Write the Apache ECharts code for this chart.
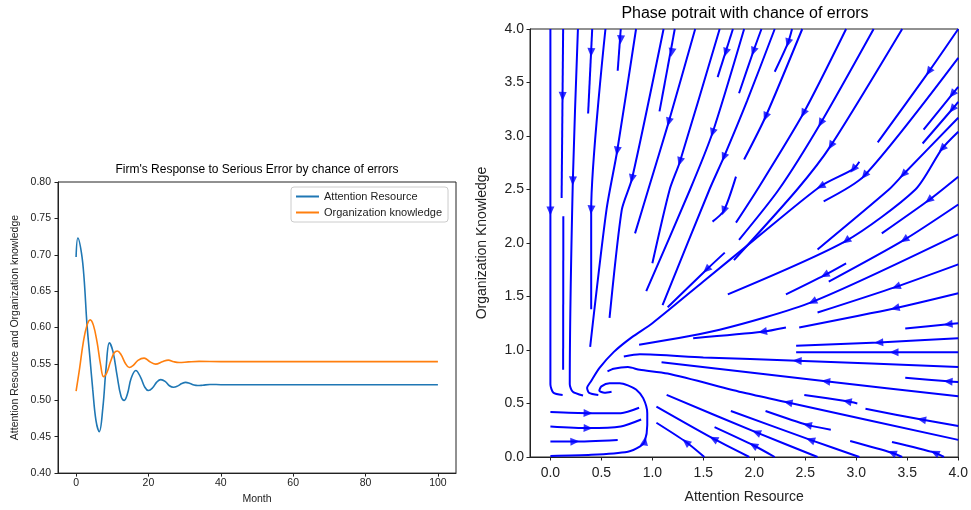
<!DOCTYPE html>
<html>
<head>
<meta charset="utf-8">
<script src="https://cdn.jsdelivr.net/npm/echarts@6/dist/echarts.min.js"></script>
<style>
html, body { margin: 0; padding: 0; background: #fff; }
#main { width: 971px; height: 510px; }
</style>
</head>
<body>
<div id="main"></div>
<script>
// left panel: month, value pairs
var attention = [[0,0.697],[0.5,0.723],[1.5,0.702],[2.2,0.668],[3,0.605],[3.8,0.56],[4.6,0.515],[5.5,0.472],[6.4,0.457],
  [7.4,0.49],[8.3,0.545],[9.2,0.579],[10.2,0.567],[11.3,0.535],[12.4,0.506],[13.3,0.500],[14.2,0.509],[15.2,0.53],
  [16.5,0.541],[17.8,0.532],[19,0.518],[20,0.5135],[21.1,0.517],[22.3,0.525],[23.4,0.5284],[24.6,0.526],[25.8,0.520],
  [26.9,0.518],[28,0.5195],[29.2,0.523],[30.3,0.5247],[31.5,0.523],[32.6,0.521],[33.6,0.5203],[35,0.5208],[37,0.5218],
  [40,0.5215],[45,0.5213],[50,0.5215],[100,0.5215]];
var knowledge = [[0,0.5125],[1,0.545],[2,0.58],[3,0.603],[3.9,0.6106],[4.8,0.603],[5.8,0.58],[6.8,0.548],[7.6,0.5325],
  [8.5,0.538],[9.5,0.553],[10.5,0.565],[11.4,0.5677],[12.4,0.563],[13.6,0.551],[14.7,0.5451],[15.8,0.548],[17.1,0.555],
  [18.8,0.558],[20.4,0.553],[22,0.5497],[23.8,0.553],[25.5,0.5553],[27,0.553],[28.5,0.5519],[31,0.5528],[34,0.5535],
  [40,0.5532],[100,0.5532]];
var monthTicks = [0, 20, 40, 60, 80, 100];
var levelTicks = [0.40, 0.45, 0.50, 0.55, 0.60, 0.65, 0.70, 0.75, 0.80];

// right panel: streamlines (x, y), in flow order
var phaseTicks = [0, 0.5, 1, 1.5, 2, 2.5, 3, 3.5, 4];
var fanLines = [
  [[0,4.0],[0,2.3],[0,0.68],[0.03,0.6],[0.12,0.58]],
  [[0.125,4.0],[0.11,2.42]],
  [[0.127,2.25],[0.125,0.815]],
  [[0.27,4.0],[0.22,2.58],[0.19,0.68],[0.22,0.61],[0.32,0.575]],
  [[0.41,4.0],[0.37,3.21]],
  [[0.54,4.0],[0.40,2.31],[0.40,1.38]],
  [[0.69,4.0],[0.66,3.61]],
  [[0.84,4.0],[0.655,2.86],[0.55,2.31],[0.39,1.03]],
  [[1.11,4.0],[0.80,2.60],[0.70,2.31],[0.58,1.30]],
  [[1.22,4.0],[1.07,3.23]],
  [[1.42,4.0],[1.16,3.13],[0.96,2.5],[0.83,2.09]],
  [[1.66,4.0],[1.27,2.76],[1.17,2.5],[1.0,1.81]],
  [[1.79,4.0],[1.64,3.55]],
  [[1.90,4.0],[1.59,3.03],[1.37,2.5],[0.94,1.55]],
  [[2.07,4.0],[1.99,3.79],[1.85,3.40]],
  [[2.20,4.0],[1.93,3.33],[1.70,2.80],[1.56,2.5],[1.10,1.42]],
  [[2.37,4.0],[2.33,3.87],[2.20,3.60]],
  [[2.47,4.0],[2.11,3.18],[1.90,2.78]],
  [[1.82,2.62],[1.70,2.30],[1.59,2.20]],
  [[2.90,4.0],[2.48,3.21],[2.03,2.50],[1.82,2.19]],
  [[3.17,4.0],[2.65,3.12],[2.24,2.50],[1.85,2.03]],
  [[3.45,4.0],[2.75,2.91],[2.42,2.50],[1.80,1.84]],
  [[1.71,1.91],[1.53,1.75],[1.15,1.40]]
];
var rightLines = [
  [[4.0,4.0],[3.71,3.60],[3.21,2.94]],
  [[4.0,3.73],[3.08,2.63],[2.68,2.39]],
  [[3.03,2.76],[2.97,2.69],[2.65,2.53],[2.0,2.03],[1.5,1.64],[1.0,1.25],[0.80,1.12],[0.62,0.98],[0.48,0.83],[0.40,0.71],[0.36,0.645],[0.38,0.60],[0.47,0.58]],
  [[4.0,3.46],[3.94,3.39],[3.66,3.06]],
  [[4.0,3.32],[3.94,3.25],[3.65,2.93]],
  [[4.0,3.17],[3.46,2.64],[3.32,2.50],[2.62,1.94]],
  [[4.0,3.04],[3.84,2.88],[3.58,2.50],[2.90,2.02],[1.74,1.52]],
  [[4.0,2.62],[3.71,2.40],[3.25,2.09]],
  [[4.0,2.36],[3.47,2.03],[2.73,1.64]],
  [[4.0,2.08],[2.57,1.45],[1.66,1.19],[0.87,1.05]],
  [[2.90,1.81],[2.69,1.70],[2.31,1.52]],
  [[2.31,1.21],[2.08,1.17],[1.40,1.11]],
  [[4.0,1.80],[3.39,1.59],[2.62,1.35]],
  [[4.0,1.53],[3.38,1.39],[2.44,1.21]],
  [[4.0,1.25],[3.90,1.24],[3.48,1.20]],
  [[4.0,1.11],[3.22,1.07],[2.41,1.04]],
  [[4.0,0.98],[3.37,0.98],[2.41,0.98]],
  [[4.0,0.84],[2.42,0.90],[1.5,0.93],[0.877,0.96],[0.72,0.94]],
  [[4.0,0.70],[3.90,0.707],[3.48,0.74]],
  [[4.0,0.567],[2.70,0.707],[1.09,0.886]],
  [[4.0,0.16],[2.33,0.51],[1.9,0.60],[1.15,0.78],[0.877,0.815],[0.76,0.84],[0.62,0.825],[0.56,0.80]],
  [[4.0,0.29],[3.64,0.35],[3.09,0.45]],
  [[3.01,0.50],[2.91,0.52],[2.49,0.58]]
];
var bottomLines = [
  [[2.62,0.0],[2.02,0.23],[1.14,0.58]],
  [[2.75,0.255],[2.52,0.30],[2.11,0.43]],
  [[3.03,0.0],[2.55,0.16],[1.77,0.43]],
  [[1.95,0.0],[1.58,0.18],[1.04,0.47]],
  [[2.20,0.0],[1.99,0.11],[1.61,0.28]],
  [[1.51,0.0],[1.33,0.14],[1.04,0.32]],
  [[3.45,0.0],[3.35,0.04],[2.94,0.15]],
  [[3.86,0.0],[3.77,0.04],[3.35,0.14]]
];
var lowerLeftLines = [
  [[0,0.42],[0.37,0.41],[0.69,0.41],[0.87,0.46]],
  [[0,0.285],[0.37,0.27],[0.69,0.285],[0.89,0.35]],
  [[0,0.145],[0.22,0.145],[0.66,0.16]],
  [[0,0.01],[0.4,0.02],[0.76,0.05],[0.88,0.10],[0.925,0.145],[0.95,0.30],[0.95,0.41],[0.91,0.55],[0.84,0.63],[0.76,0.67],[0.68,0.69],[0.58,0.69],[0.50,0.66],[0.48,0.62],[0.53,0.60],[0.60,0.61]]
];
var arrowPoints = [
  [0,2.30],[0.12,3.37],[0.22,2.58],[0.40,3.78],[0.40,2.31],[0.69,3.90],[0.655,2.86],[0.80,2.60],[1.19,3.78],
  [1.16,3.13],[1.27,2.76],[1.72,3.78],[1.59,3.03],[1.99,3.79],[1.70,2.80],[2.33,3.87],[2.11,3.18],[1.70,2.30],
  [2.48,3.21],[2.65,3.12],[2.75,2.91],[1.53,1.75],
  [3.71,3.60],[3.08,2.63],[2.97,2.69],[2.65,2.53],[3.94,3.39],[3.94,3.25],[3.46,2.64],[3.84,2.88],[2.90,2.02],
  [3.71,2.40],[3.47,2.03],[2.57,1.45],[2.69,1.70],[2.08,1.17],[3.39,1.59],[3.38,1.39],[3.90,1.24],[3.22,1.07],
  [3.37,0.98],[2.42,0.90],[3.90,0.707],[2.70,0.707],[2.33,0.51],[3.64,0.35],[2.91,0.52],
  [2.02,0.23],[2.52,0.30],[2.55,0.16],[1.60,0.17],[1.99,0.11],[1.33,0.14],[3.35,0.04],[3.77,0.04],
  [0.37,0.41],[0.37,0.27],[0.24,0.145],[0.925,0.15]
];

var font = 'Liberation Sans, Arial, sans-serif';
var ink = '#222';
var streamBlue = '#0000ff';
var allStreams = fanLines.concat(rightLines, bottomLines, lowerLeftLines);

function axisBase(extra) {
  var a = {
    type: 'value',
    splitLine: { show: false },
    axisLine: { show: true, onZero: false, lineStyle: { color: ink, width: 1 } },
    nameLocation: 'middle',
    nameTextStyle: { fontFamily: font, color: ink }
  };
  for (var k in extra) a[k] = extra[k];
  return a;
}

var series = [
  { name: 'Attention Resource', type: 'line', xAxisIndex: 0, yAxisIndex: 0, data: attention,
    showSymbol: false, smooth: 0.4, lineStyle: { width: 1.6, color: '#1f77b4' }, itemStyle: { color: '#1f77b4' } },
  { name: 'Organization knowledge', type: 'line', xAxisIndex: 0, yAxisIndex: 0, data: knowledge,
    showSymbol: false, smooth: 0.4, lineStyle: { width: 1.6, color: '#ff7f0e' }, itemStyle: { color: '#ff7f0e' } }
];
allStreams.forEach(function (pts) {
  series.push({ type: 'line', xAxisIndex: 1, yAxisIndex: 1, data: pts, showSymbol: false, smooth: 0.25,
    silent: true, lineStyle: { color: streamBlue, width: 2 } });
});
var arrowSeries = { type: 'scatter', xAxisIndex: 1, yAxisIndex: 1, data: [], silent: true, z: 5,
  symbol: 'path://M0,0L10,5L0,10Z', symbolSize: [9, 8], itemStyle: { color: streamBlue } };
series.push(arrowSeries);

var option = {
  animation: false,
  backgroundColor: '#fff',
  graphic: [
    { type: 'text', x: 257, y: 170, style: { text: "Firm's Response to Serious Error by chance of errors",
      font: '12px ' + font, fill: '#000', textAlign: 'center', textVerticalAlign: 'middle' } },
    { type: 'text', x: 745, y: 14, style: { text: 'Phase potrait with chance of errors',
      font: '16px ' + font, fill: '#000', textAlign: 'center', textVerticalAlign: 'middle' } }
  ],
  legend: {
    data: ['Attention Resource', 'Organization knowledge'],
    left: 291, top: 187, orient: 'vertical', icon: 'rect', itemWidth: 23, itemHeight: 2, itemGap: 5,
    padding: [4, 6, 4, 5], borderColor: '#ccc', borderWidth: 1, borderRadius: 3, backgroundColor: '#fff',
    textStyle: { fontFamily: font, fontSize: 11, color: ink }
  },
  grid: [
    { left: 58, right: 515, top: 182, bottom: 33, show: true, borderColor: ink, borderWidth: 1 },
    { left: 530, right: 11, top: 29, bottom: 53, show: true, borderColor: ink, borderWidth: 1 }
  ],
  xAxis: [
    axisBase({ gridIndex: 0, min: -5, max: 105, name: 'Month', nameGap: 19,
      nameTextStyle: { fontFamily: font, fontSize: 10.5, color: ink },
      axisTick: { show: true, customValues: monthTicks, length: 3.5, lineStyle: { color: ink } },
      axisLabel: { customValues: monthTicks, fontFamily: font, fontSize: 10.5, color: ink, margin: 5 } }),
    axisBase({ gridIndex: 1, min: -0.2, max: 4.0, name: 'Attention Resource', nameGap: 33,
      nameTextStyle: { fontFamily: font, fontSize: 14, color: ink },
      axisTick: { show: true, customValues: phaseTicks, length: 3.5, lineStyle: { color: ink } },
      axisLabel: { customValues: phaseTicks, fontFamily: font, fontSize: 14, color: ink, margin: 9,
        formatter: function (v) { return v.toFixed(1); } } })
  ],
  yAxis: [
    axisBase({ gridIndex: 0, min: 0.4, max: 0.8, name: 'Attention Resource and Organization knowledge', nameGap: 37,
      nameTextStyle: { fontFamily: font, fontSize: 10.5, color: ink },
      axisTick: { show: true, customValues: levelTicks, length: 3.5, lineStyle: { color: ink } },
      axisLabel: { customValues: levelTicks, fontFamily: font, fontSize: 10.5, color: ink, margin: 7,
        formatter: function (v) { return v.toFixed(2); } } }),
    axisBase({ gridIndex: 1, min: 0, max: 4.0, name: 'Organization Knowledge', nameGap: 41,
      nameTextStyle: { fontFamily: font, fontSize: 14, color: ink },
      axisTick: { show: true, customValues: phaseTicks, length: 3.5, lineStyle: { color: ink } },
      axisLabel: { customValues: phaseTicks, fontFamily: font, fontSize: 14, color: ink, margin: 6,
        formatter: function (v) { return v.toFixed(1); } } })
  ],
  series: series
};

var chart = echarts.init(document.getElementById('main'));
chart.setOption(option);

// turn each arrow head along the streamline segment closest to it
function px(p) { return chart.convertToPixel({ gridIndex: 1 }, p); }
arrowSeries.data = arrowPoints.map(function (a) {
  var ap = px(a), best = Infinity, dir = [1, 0];
  allStreams.forEach(function (pts) {
    for (var i = 0; i < pts.length - 1; i++) {
      var p = px(pts[i]), q = px(pts[i + 1]);
      var dx = q[0] - p[0], dy = q[1] - p[1], len2 = dx * dx + dy * dy || 1;
      var t = Math.max(0, Math.min(1, ((ap[0] - p[0]) * dx + (ap[1] - p[1]) * dy) / len2));
      var ex = p[0] + t * dx - ap[0], ey = p[1] + t * dy - ap[1];
      var d = ex * ex + ey * ey;
      if (d < best) { best = d; dir = [dx, dy]; }
    }
  });
  return { value: a, symbolRotate: -Math.atan2(dir[1], dir[0]) * 180 / Math.PI };
});
chart.setOption(option, true);
</script>
</body>
</html>
